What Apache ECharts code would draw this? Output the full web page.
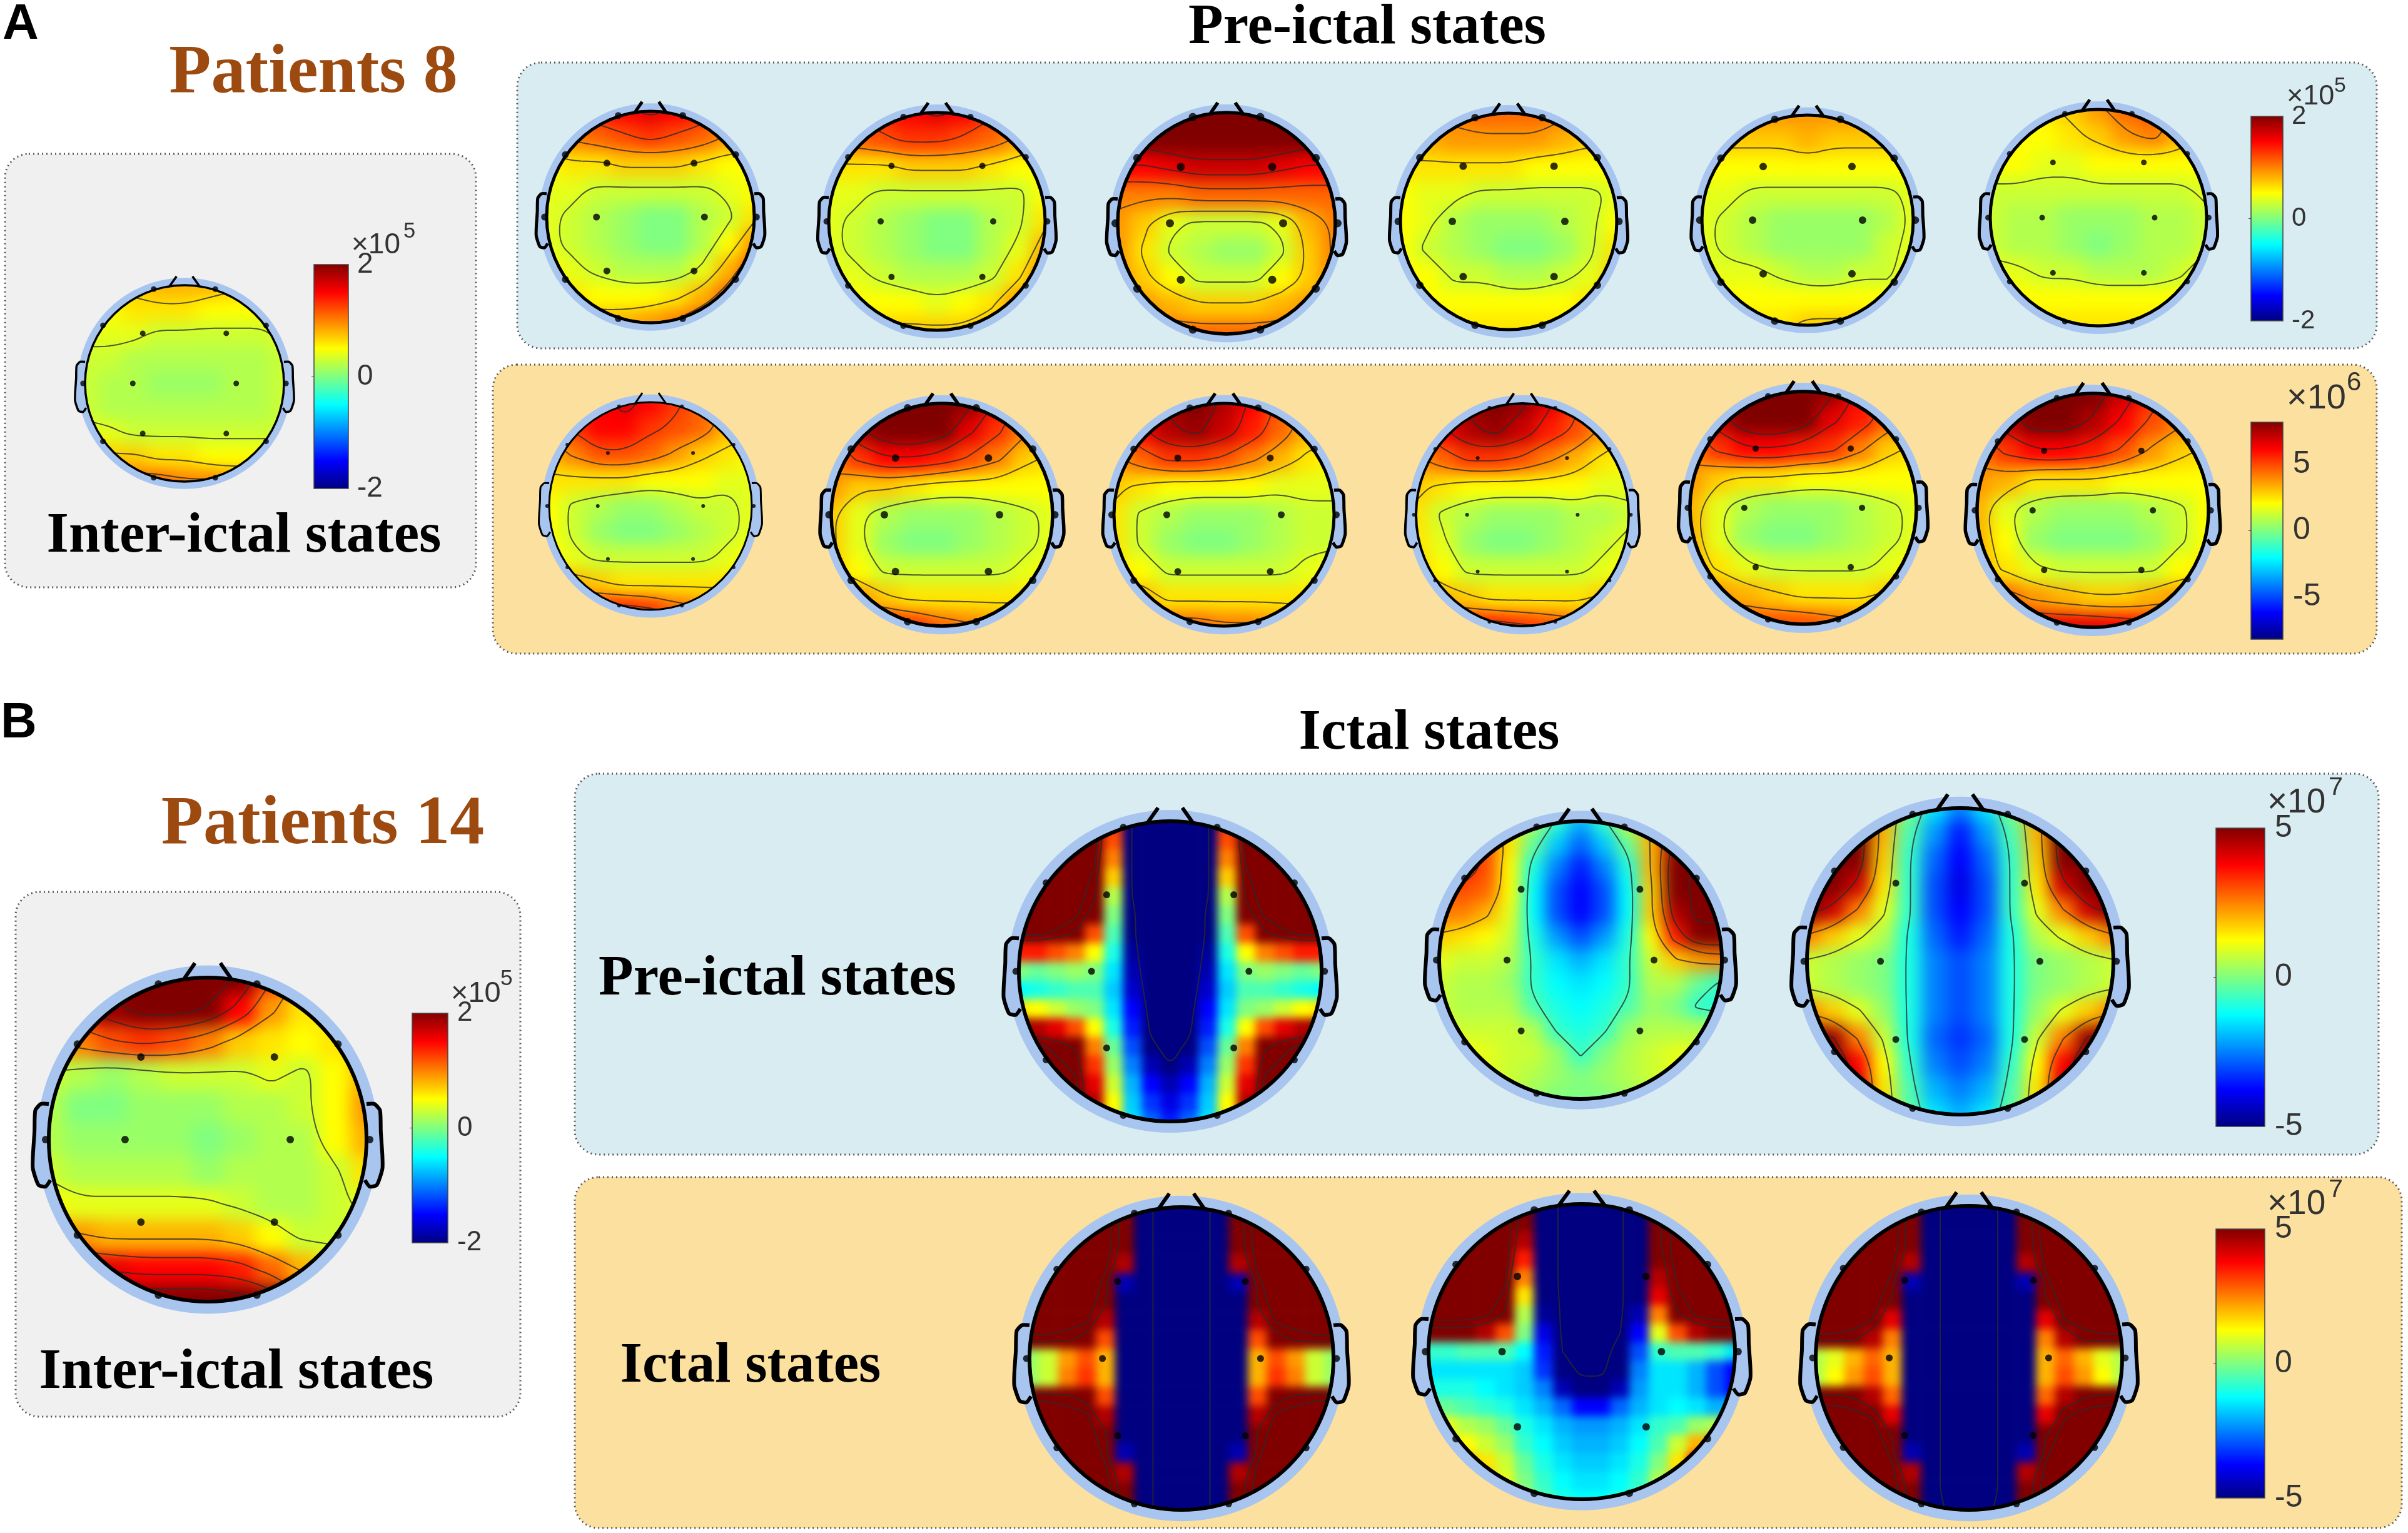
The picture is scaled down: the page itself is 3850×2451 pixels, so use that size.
<!DOCTYPE html>
<html><head><meta charset="utf-8"><title>EEG topographies</title>
<style>html,body{margin:0;padding:0;background:#fff;overflow:hidden}#c{width:3850px;height:2451px}</style>
<script src="https://cdn.jsdelivr.net/npm/echarts@6/dist/echarts.min.js"></script></head>
<body><div id="c"></div>
<script>
// Field values, in twentieths of each colour bar's half range (+-20 = bar ends).
// Rows run top to bottom of the head, columns left to right. Beyond +-20 the colour saturates.
const inter8=[
[7,7,7,8,8,8,7,6,6],[5,5,6,6,6,5,5,5,4],[4,4,4,3,3,3,3,3,4],[3,3,2,2,2,2,2,2,3],[3,2,2,1,1,1,2,2,3],[3,2,2,2,2,2,2,2,3],[4,4,3,3,3,3,3,3,3],[7,7,7,6,6,5,5,5,5],[11,11,11,11,10,10,9,9,9]];
const pre8a=[
[12,13,14,15,16,15,14,12,10],[9,10,11,12,13,12,11,9,8],[5,6,6,7,7,7,6,5,5],[4,4,3,3,3,3,3,4,5],[4,3,2,1,0,0,2,3,6],[4,3,2,1,0,0,2,5,9],[5,4,3,2,2,2,4,8,12],[6,6,5,5,5,6,8,11,14],[8,8,8,8,9,10,12,14,15]];
const pre8b=[
[12,13,14,15,16,15,13,11,9],[10,11,12,13,13,12,11,9,7],[6,6,6,7,7,7,6,5,5],[4,4,3,3,3,3,3,3,5],[4,3,2,1,0,0,2,3,6],[4,3,2,1,0,0,2,4,8],[4,4,3,2,2,2,3,6,10],[5,5,5,5,4,5,6,9,12],[7,7,7,7,7,7,8,11,13]];
const pre8c=[
[22,23,24,24,24,24,24,23,22],[19,20,21,22,22,22,21,20,19],[15,15,16,17,17,17,16,15,15],[10,10,10,11,11,11,11,11,11],[9,7,4,3,3,3,4,8,10],[9,6,3,2,1,1,3,7,10],[9,7,5,3,3,3,5,7,10],[10,9,8,7,7,7,8,9,10],[11,11,11,11,11,11,11,11,11]];
const pre8d=[
[10,10,10,11,11,11,10,9,9],[8,8,9,9,9,9,8,7,7],[6,6,6,6,6,5,5,5,5],[5,4,4,3,3,3,3,3,4],[5,4,2,1,1,1,2,3,5],[5,3,2,1,0,0,1,3,6],[5,5,3,3,2,2,3,4,7],[5,5,5,5,5,5,5,6,8],[6,6,6,6,6,6,6,6,8]];
const pre8e=[
[9,9,9,9,9,9,9,8,8],[7,7,7,7,8,7,7,7,7],[5,5,5,5,5,5,5,5,5],[4,4,3,3,3,3,3,3,4],[4,3,2,1,1,1,1,2,4],[4,3,2,1,1,1,1,3,4],[4,4,4,3,2,2,3,3,5],[5,5,5,5,5,5,5,5,5],[6,6,6,6,7,7,7,6,6]];
const pre8f=[
[5,5,6,7,9,11,12,9,7],[5,5,5,6,7,9,10,8,6],[5,5,4,4,5,5,5,5,5],[3,3,3,3,3,3,3,3,4],[3,2,2,1,1,1,2,2,3],[3,2,2,1,0,1,2,2,3],[4,4,3,3,2,2,2,3,5],[5,5,5,5,5,5,5,5,5],[6,6,6,6,6,6,6,6,6]];
const ict8a=[
[12,14,15,16,15,13,11,9,8],[10,13,15,15,13,12,11,8,7],[8,10,12,12,11,9,7,6,5],[6,6,6,6,5,5,5,4,4],[5,3,2,1,1,2,3,3,4],[5,3,1,0,0,1,2,3,4],[5,4,3,3,3,3,3,4,5],[8,8,7,6,6,6,6,6,6],[13,13,14,14,13,11,10,9,9]];
const ict8b=[
[16,19,22,23,22,19,15,11,9],[13,18,21,22,20,16,13,10,8],[10,13,15,15,14,12,10,7,6],[9,7,7,6,5,5,5,5,5],[7,4,2,1,1,1,2,3,4],[7,4,1,0,0,1,2,3,4],[7,5,3,3,3,3,3,4,5],[9,9,7,6,6,6,6,6,6],[14,14,14,13,11,10,9,9,9]];
const ict8c=[
[14,16,19,20,18,15,12,9,8],[12,15,18,19,17,14,11,8,7],[9,11,13,13,12,10,8,6,5],[7,6,5,5,5,5,4,4,4],[6,3,2,1,1,1,2,3,3],[6,3,1,0,0,1,2,3,3],[6,5,3,3,3,3,3,4,5],[8,8,6,6,6,6,6,6,6],[11,11,11,11,10,10,9,8,8]];
const ict8d=[
[14,16,19,21,19,16,13,10,8],[12,15,18,19,17,14,12,9,7],[9,11,13,13,12,10,8,6,5],[7,6,5,5,5,5,5,4,4],[6,3,2,1,1,1,2,2,3],[6,4,1,0,0,1,2,3,4],[7,5,3,3,3,3,3,4,5],[9,8,7,6,6,6,6,7,7],[14,14,14,14,13,12,11,10,10]];
const ict8e=[
[15,19,22,23,22,19,15,12,10],[13,17,21,22,20,16,14,11,9],[10,13,15,15,14,13,10,7,6],[9,7,6,6,5,5,5,5,5],[8,4,2,1,1,1,2,3,4],[8,4,1,0,0,1,2,3,4],[8,6,4,3,3,3,3,4,5],[10,9,8,7,6,6,6,7,8],[12,12,12,12,12,11,10,10,10]];
const ict8f=[
[15,18,20,21,20,17,14,11,9],[13,17,20,20,18,15,12,10,8],[10,13,15,15,14,12,9,7,6],[9,8,6,6,6,5,5,5,5],[8,4,2,1,1,1,2,3,5],[8,5,1,0,0,0,1,3,5],[8,6,4,3,3,3,3,5,6],[11,11,9,8,7,7,8,9,9],[17,17,16,16,16,15,14,14,14]];
const inter14=[
[16,20,23,24,24,23,20,13,7,6,6],[13,16,19,22,22,20,15,9,6,6,6],[8,10,12,13,12,10,7,6,5,6,7],[3,2,1,2,3,3,3,4,3,5,8],[2,0,0,1,1,1,2,2,3,5,9],[2,1,1,1,1,0,1,2,2,5,8],[3,2,2,2,2,1,2,2,2,3,6],[5,4,4,4,4,4,3,2,2,3,4],[10,9,8,8,8,8,7,5,3,3,3],[16,17,16,15,15,15,14,11,8,5,4],[21,23,24,24,24,24,23,20,14,8,6]];
const pre14a=[
[30,30,30,30,30,14,-22,-26,-26,-26,-22,14,30,30,30,30,30],
[30,30,30,30,30,12,-22,-26,-26,-26,-22,12,30,30,30,30,30],
[30,30,30,30,28,10,-22,-26,-26,-26,-22,10,28,30,30,30,30],
[30,30,30,30,26,7,-22,-26,-26,-26,-22,7,26,30,30,30,30],
[30,30,30,30,24,2,-21,-26,-26,-26,-21,2,24,30,30,30,30],
[30,30,30,28,20,0,-20,-26,-26,-26,-20,0,20,28,30,30,30],
[28,28,26,22,12,-2,-20,-26,-26,-26,-20,-2,12,22,26,28,28],
[14,14,12,10,5,-4,-19,-26,-26,-26,-19,-4,5,10,12,14,14],
[0,-1,0,1,0,-6,-18,-25,-26,-25,-18,-6,0,1,0,-1,0],
[-5,-4,-3,-2,-2,-7,-17,-24,-26,-24,-17,-7,-2,-2,-3,-4,-5],
[6,5,3,1,0,-6,-15,-23,-26,-23,-15,-6,0,1,3,5,6],
[20,18,16,12,5,-4,-14,-22,-25,-22,-14,-4,5,12,16,18,20],
[28,28,26,22,10,-1,-12,-20,-23,-20,-12,-1,10,22,26,28,28],
[30,28,28,26,13,1,-10,-18,-21,-18,-10,1,13,26,28,28,30],
[30,28,28,28,16,3,-8,-15,-18,-15,-8,3,16,28,28,28,30],
[30,28,28,28,18,5,-7,-13,-16,-13,-7,5,18,28,28,28,30],
[30,28,28,28,20,6,-6,-11,-14,-11,-6,6,20,28,28,28,30]];
const pre14b=[
[14,14,10,5,2,-3,-8,-3,3,8,14,16,16],[14,14,12,6,-1,-7,-11,-7,-1,8,18,22,22],[14,14,12,5,-4,-10,-14,-10,-4,8,20,24,24],[12,12,11,5,-5,-12,-15,-12,-5,7,20,24,24],[10,10,8,4,-5,-12,-15,-12,-5,7,18,24,24],[7,6,5,3,-4,-9,-12,-9,-4,5,14,20,20],[4,3,3,2,-3,-6,-8,-6,-3,3,7,9,10],[3,2,2,1,-3,-5,-6,-5,-3,2,2,-1,-3],[3,2,2,2,-2,-4,-5,-4,-2,1,0,-3,-4],[4,3,3,3,2,-3,-4,-3,1,2,2,2,2],[5,5,4,3,3,1,-3,0,2,3,4,4,4],[6,5,4,3,2,1,0,1,2,3,4,4,4],[6,5,4,3,1,0,0,0,1,2,4,4,4]];
const pre14c=[
[22,26,22,8,0,-6,-10,-6,0,8,22,26,22],[26,27,22,8,-2,-9,-14,-9,-2,8,22,27,26],[27,26,22,7,-3,-11,-15,-11,-3,7,22,26,27],[26,25,17,6,-3,-12,-16,-12,-3,6,17,25,26],[20,17,10,4,-3,-12,-15,-12,-3,4,10,17,20],[10,7,4,2,-4,-11,-14,-11,-4,2,4,7,10],[3,2,1,0,-4,-10,-12,-10,-4,0,1,2,3],[3,2,1,0,-4,-10,-12,-10,-4,0,1,2,3],[10,7,4,1,-4,-10,-12,-10,-4,1,4,7,10],[22,19,10,3,-4,-11,-13,-11,-4,3,10,19,22],[26,25,15,5,-3,-10,-12,-10,-3,5,15,25,26],[26,26,17,6,-2,-8,-10,-8,-2,6,17,26,26],[22,22,16,6,-1,-6,-8,-6,-1,6,16,22,22]];
const ict14a=[
[30,30,30,30,30,20,-24,-26,-26,-26,-24,20,30,30,30,30,30],
[30,30,30,30,30,20,-24,-26,-26,-26,-24,20,30,30,30,30,30],
[30,30,30,30,30,20,-24,-26,-26,-26,-24,20,30,30,30,30,30],
[30,30,30,30,28,18,-24,-26,-26,-26,-24,18,28,30,30,30,30],
[30,30,30,30,26,-18,-24,-26,-26,-26,-24,-18,26,30,30,30,30],
[30,30,30,30,24,-20,-24,-26,-26,-26,-24,-20,24,30,30,30,30],
[30,30,30,28,18,-20,-24,-26,-26,-26,-24,-20,18,28,30,30,30],
[26,26,24,20,12,-20,-24,-26,-26,-26,-24,-20,12,20,24,26,26],
[1,3,9,12,8,-20,-24,-26,-26,-26,-24,-20,8,12,9,3,1],
[1,3,10,13,8,-20,-24,-26,-26,-26,-24,-20,8,13,10,3,1],
[26,26,24,20,12,-20,-24,-26,-26,-26,-24,-20,12,20,24,26,26],
[30,30,30,28,18,-20,-24,-26,-26,-26,-24,-20,18,28,30,30,30],
[30,30,30,30,24,-20,-24,-26,-26,-26,-24,-20,24,30,30,30,30],
[30,30,30,30,26,-18,-24,-26,-26,-26,-24,-18,26,30,30,30,30],
[30,30,30,30,28,18,-24,-26,-26,-26,-24,18,28,30,30,30,30],
[30,30,30,30,30,20,-24,-26,-26,-26,-24,20,30,30,30,30,30],
[30,30,30,30,30,20,-24,-26,-26,-26,-24,20,30,30,30,30,30]];
const ict14b=[
[30,30,30,30,30,20,-22,-26,-26,-26,-26,-20,22,30,30,30,30],
[30,30,30,30,30,20,-22,-26,-26,-26,-26,-20,22,30,30,30,30],
[30,30,30,30,30,18,-22,-26,-26,-26,-26,-20,22,30,30,30,30],
[30,30,30,30,30,14,-22,-26,-26,-26,-26,-20,20,30,30,30,30],
[30,30,30,30,28,10,-22,-26,-26,-26,-26,-20,18,28,30,30,30],
[30,30,30,30,26,6,-21,-26,-26,-26,-26,-20,16,26,30,30,30],
[30,30,30,28,22,2,-19,-26,-26,-26,-26,-18,10,22,28,30,30],
[20,20,20,18,12,0,-16,-26,-26,-26,-25,-15,4,12,18,20,20],
[-3,-3,-2,-2,-2,-5,-14,-25,-26,-26,-24,-12,-3,-2,-2,-3,-6],
[-6,-6,-6,-6,-6,-7,-13,-23,-26,-26,-22,-10,-6,-6,-8,-12,-15],
[-4,-4,-4,-5,-6,-7,-10,-18,-23,-23,-18,-9,-6,-6,-8,-12,-15],
[0,-1,-2,-3,-4,-6,-8,-11,-15,-15,-11,-8,-6,-5,-6,-8,-8],
[5,4,2,1,-1,-4,-6,-8,-9,-9,-8,-6,-3,-2,1,2,2],
[7,6,5,3,1,-3,-5,-7,-8,-8,-7,-5,-2,3,8,10,10],
[10,9,8,6,3,-1,-4,-6,-7,-7,-6,-4,0,6,14,18,18],
[12,12,10,8,4,0,-3,-5,-6,-6,-5,-3,2,8,16,22,22],
[12,12,10,8,4,1,-2,-4,-5,-5,-4,-2,2,8,16,22,22]];
const ict14c=[
[30,30,30,30,30,20,-24,-26,-26,-26,-24,20,30,30,30,30,30],
[30,30,30,30,30,20,-24,-26,-26,-26,-24,20,30,30,30,30,30],
[30,30,30,30,30,20,-24,-26,-26,-26,-24,20,30,30,30,30,30],
[30,30,30,30,28,18,-24,-26,-26,-26,-24,18,28,30,30,30,30],
[30,30,30,30,26,-18,-24,-26,-26,-26,-24,-18,26,30,30,30,30],
[30,30,30,30,22,-20,-24,-26,-26,-26,-24,-20,22,30,30,30,30],
[30,30,30,27,16,-20,-24,-26,-26,-26,-24,-20,16,27,30,30,30],
[26,26,24,18,10,-20,-24,-26,-26,-26,-24,-20,10,18,24,26,26],
[2,4,8,11,8,-20,-24,-26,-26,-26,-24,-20,8,11,8,4,2],
[2,5,9,12,8,-20,-24,-26,-26,-26,-24,-20,8,12,9,5,2],
[24,24,22,18,11,-20,-24,-26,-26,-26,-24,-20,11,18,22,24,24],
[30,30,29,26,16,-20,-24,-26,-26,-26,-24,-20,16,26,29,30,30],
[30,30,30,30,22,-20,-24,-26,-26,-26,-24,-20,22,30,30,30,30],
[30,30,30,30,26,-18,-24,-26,-26,-26,-24,-18,26,30,30,30,30],
[30,30,30,30,28,18,-24,-26,-26,-26,-24,18,28,30,30,30,30],
[30,30,30,30,30,20,-24,-26,-26,-26,-24,20,30,30,30,30,30],
[30,30,30,30,30,20,-22,-26,-26,-26,-22,20,30,30,30,30,30]];

const barTicksLow=[-2,0,2], barTicksMid=[-5,0,5], barLimitMid=8.2, barLimitHigh=5, barLimitLow=2;
const electrodes=[[-.31,-.96],[.31,-.96],[-.82,-.59],[.82,-.59],[-.42,-.51],[.42,-.51],[-.52,0],[.52,0],[-1.02,0],[1.02,0],[-.42,.51],[.42,.51],[-.82,.59],[.82,.59],[-.31,.96],[.31,.96]];
const earRight=[[1,-.22],[1.05,-.22],[1.085,-.18],[1.09,-.05],[1.1,.1],[1.1,.18],[1.065,.28],[1.02,.29],[.99,.25]];
const noseRight=[[.15,-.99],[.08,-1.09]];
const earLeft=earRight.map(p=>[-p[0],p[1]]), noseLeft=noseRight.map(p=>[-p[0],p[1]]);

const A=[3.5,6.5,9.5,12.5,15.5,18.5], SAT=[-25,23,27];
const heads=[
 {d:inter8,c:[295,613],r:[159,157],w:3.5,s:9,l:A},
 {d:pre8a,c:[1040,347],r:[166,169],w:5,s:11,l:A},
 {d:pre8b,c:[1498,354],r:[173,174],w:5,s:10,l:A},
 {d:pre8c,c:[1961,357],r:[174,177],w:5.5,s:13,l:A},
 {d:pre8d,c:[2412,354],r:[173,173],w:5,s:12,l:A},
 {d:pre8e,c:[2890,352],r:[169,168],w:5,s:12,l:A},
 {d:pre8f,c:[3355,348],r:[173,173],w:5,s:9,l:A},
 {d:ict8a,c:[1040,809],r:[162,166],w:3,s:6,l:A},
 {d:ict8b,c:[1506,823],r:[177,178],w:5.5,s:12,l:A},
 {d:ict8c,c:[1957,823],r:[176,178],w:5,s:11,l:A},
 {d:ict8d,c:[2434,823],r:[170,178],w:4,s:6,l:A},
 {d:ict8e,c:[2883,812],r:[181,186],w:5.5,s:10,l:A},
 {d:ict8f,c:[3346,816],r:[185,187],w:5.5,s:10,l:A},
 {d:inter14,c:[332,1822],r:[254,259],w:6,s:12,l:[3.5,8.5,12.5,16.5,20.5]},
 {d:pre14a,c:[1871,1553],r:[242,240],w:6,s:11,l:[-21,23,27],sharp:1},
 {d:pre14b,c:[2527,1535],r:[226,222],w:6,s:11,l:[-2.5,7.5,12.5,16.5,22.5]},
 {d:pre14c,c:[3134,1537],r:[245,245],w:6,s:11,l:[-3.5,3.5,10.5,18.5]},
 {d:ict14a,c:[1889,2172],r:[243,242],w:6,s:11,l:SAT,sharp:1},
 {d:ict14b,c:[2529,2161],r:[245,236],w:6,s:12,l:SAT,sharp:1},
 {d:ict14c,c:[3148,2171],r:[245,243],w:6,s:11,l:SAT,sharp:1}
];
const bars=[
 {box:[502,423,55,358],lim:barLimitLow,ticks:barTicksLow,fs:46,m:14,exp:['×10','5',562,392,46,645,370]},
 {box:[3599,186,51,327],lim:barLimitLow,ticks:barTicksLow,fs:42,m:14,exp:['×10','5',3656,155,45,3732,138]},
 {box:[3599,675,51,347],lim:barLimitMid,ticks:barTicksMid,fs:50,m:16,exp:['×10','6',3656,638,56,3752,612]},
 {box:[659,1620,57,367],lim:barLimitLow,ticks:barTicksLow,fs:44,m:15,exp:['×10','5',721,1589,47,800,1565]},
 {box:[3543,1324,78,477],lim:barLimitHigh,ticks:[-5,0,5],fs:50,m:16,exp:['×10','7',3625,1284,55,3723,1260]},
 {box:[3543,1965,78,430],lim:barLimitHigh,ticks:[-5,0,5],fs:50,m:16,exp:['×10','7',3625,1926,55,3723,1903]}
];
const jet=['#000080','#0000ff','#0080ff','#00ffff','#80ff80','#ffff00','#ff8000','#ff0000','#800000'];
const RING='#a8c5f0';

function contours(g,level){
  const N=g.length,segs=[];
  const px=(i,j)=>[-1+2*i/(N-1),-1+2*j/(N-1)];
  for(let j=0;j<N-1;j++)for(let i=0;i<N-1;i++){
    const a=g[j][i],b=g[j][i+1],c=g[j+1][i+1],d=g[j+1][i],pts=[];
    const t=(u,v)=>(level-u)/(v-u);
    if((a<level)!==(b<level))pts.push(px(i+t(a,b),j));
    if((b<level)!==(c<level))pts.push(px(i+1,j+t(b,c)));
    if((d<level)!==(c<level))pts.push(px(i+t(d,c),j+1));
    if((a<level)!==(d<level))pts.push(px(i,j+t(a,d)));
    if(pts.length>=2)segs.push([pts[0],pts[1]]);
    if(pts.length===4)segs.push([pts[2],pts[3]]);
  }
  const key=p=>p[0].toFixed(5)+','+p[1].toFixed(5),used=new Set(),lines=[];
  for(let s=0;s<segs.length;s++){
    if(used.has(s))continue;used.add(s);
    let ch=[segs[s][0],segs[s][1]],grew=true;
    while(grew){grew=false;
      for(let q=0;q<segs.length;q++){if(used.has(q))continue;
        const A=key(segs[q][0]),B=key(segs[q][1]),E=key(ch[ch.length-1]),F=key(ch[0]);
        if(A===E){ch.push(segs[q][1]);}else if(B===E){ch.push(segs[q][0]);}
        else if(A===F){ch.unshift(segs[q][1]);}else if(B===F){ch.unshift(segs[q][0]);}else continue;
        used.add(q);grew=true;}
    }
    for(let k=0;k<3&&ch.length>2;k++){const o=[ch[0]];
      for(let m=0;m<ch.length-1;m++){const p=ch[m],q=ch[m+1];
        o.push([.75*p[0]+.25*q[0],.75*p[1]+.25*q[1]],[.25*p[0]+.75*q[0],.25*p[1]+.75*q[1]]);}
      o.push(ch[ch.length-1]);ch=o;}
    lines.push(ch);
  }
  return lines;
}

const grid=[],xAxis=[],yAxis=[],series=[],heatIdx=[];
heads.forEach((h,n)=>{
  const N=h.d.length,cw=2*h.r[0]/(N-1),ch=2*h.r[1]/(N-1),ext=1+1/(N-1);
  grid.push({left:h.c[0]-h.r[0]-cw/2,top:h.c[1]-h.r[1]-ch/2,width:N*cw,height:N*ch});
  const cats=h.d.map((_,i)=>i),g=grid.length-1,ci=xAxis.length,vi=ci+1;
  xAxis.push({type:'category',gridIndex:g,data:cats,show:false},{type:'value',gridIndex:g,min:-ext,max:ext,show:false});
  yAxis.push({type:'category',gridIndex:g,data:cats,inverse:true,show:false},{type:'value',gridIndex:g,min:-ext,max:ext,inverse:true,show:false});
  const ax={xAxisIndex:vi,yAxisIndex:vi,coordinateSystem:'cartesian2d',silent:true};
  const ell=(api,k,style)=>{const c=api.coord([0,0]),e=api.coord([k,k]);
    return {type:'ellipse',shape:{cx:c[0],cy:c[1],rx:e[0]-c[0],ry:e[1]-c[1]},style};};
  const poly=(api,pts,style,smooth)=>({type:'polyline',shape:{points:pts.map(p=>api.coord(p)),smooth:smooth||0},style});
  series.push({type:'custom',...ax,zlevel:0,data:[[0,0]],renderItem:(p,api)=>({type:'group',children:[
    ell(api,1.075,{fill:RING}),
    {type:'polygon',shape:{points:earRight.map(q=>api.coord(q)),smooth:.2},style:{fill:RING}},
    {type:'polygon',shape:{points:earLeft.map(q=>api.coord(q)),smooth:.2},style:{fill:RING}}]})});
  heatIdx.push(series.length);
  const cells=[];h.d.forEach((row,j)=>row.forEach((v,i)=>cells.push([i,j,Math.max(-20,Math.min(20,v))])));
  series.push({type:'heatmap',xAxisIndex:ci,yAxisIndex:ci,zlevel:h.sharp?2:1,data:cells,silent:true,progressive:0,emphasis:{disabled:true},itemStyle:{borderWidth:0}});
  series.push({type:'custom',...ax,zlevel:3,data:[[0,0]],renderItem:(p,api)=>{
    const kids=[];h.l.forEach(lv=>contours(h.d,lv).forEach(c=>kids.push(poly(api,c,{fill:null,stroke:'#2a2a2a',lineWidth:2,opacity:.8}))));
    return {type:'group',children:kids};}});
  series.push({type:'custom',...ax,zlevel:4,data:[[0,0]],renderItem:(p,api)=>{
    const st={fill:null,stroke:'#000',lineWidth:h.w};
    return {type:'group',children:[ell(api,1,st),poly(api,earRight,st,.2),poly(api,earLeft,st,.2),poly(api,noseRight,st),poly(api,noseLeft,st)]};}});
  series.push({type:'scatter',xAxisIndex:vi,yAxisIndex:vi,zlevel:4,z:5,silent:true,data:electrodes,symbolSize:h.s,itemStyle:{color:'#000'}});
});
const stops=jet.map((c,i)=>({offset:i/(jet.length-1),color:c}));
bars.forEach(b=>{
  grid.push({left:b.box[0],top:b.box[1],width:b.box[2],height:b.box[3]});
  const g=grid.length-1,i=xAxis.length;
  xAxis.push({type:'value',gridIndex:g,min:0,max:1,show:false});
  yAxis.push({type:'value',gridIndex:g,position:'right',min:-b.lim,max:b.lim,splitLine:{show:false},axisLine:{show:false},
    axisTick:{show:true,inside:true,length:4,customValues:[0],lineStyle:{color:'#444'}},
    axisLabel:{show:true,customValues:b.ticks,margin:b.m,padding:[9,0,0,0],fontFamily:'Liberation Sans',fontSize:b.fs,color:'#333',hideOverlap:false,showMinLabel:true,showMaxLabel:true,formatter:v=>String(v)}});
  series.push({type:'custom',coordinateSystem:'cartesian2d',xAxisIndex:i,yAxisIndex:i,zlevel:4,silent:true,data:[[0,-b.lim,1,b.lim]],
    renderItem:(p,api)=>{const a=api.coord([api.value(0),api.value(1)]),e=api.coord([api.value(2),api.value(3)]);
      return {type:'rect',shape:{x:a[0],y:e[1],width:e[0]-a[0],height:a[1]-e[1]},
        style:{fill:new echarts.graphic.LinearGradient(0,1,0,0,stops),stroke:'#444',lineWidth:1.5}};}});
});

const panel=(x,y,w,h,fill)=>({type:'rect',zlevel:0,z:-10,shape:{x,y,width:w,height:h,r:38},style:{fill,stroke:'#555',lineWidth:3,lineDash:[2,5]}});
const text=(t,x,y,size,opt)=>({type:'text',zlevel:4,x,y,style:Object.assign({text:t,fontFamily:'Liberation Serif',fontWeight:'bold',fontSize:size,fill:'#000',textAlign:'center',textVerticalAlign:'middle',verticalAlign:'middle'},opt||{})});
const sans={fontFamily:'Liberation Sans'},BR='#9c4a10';
const graphics=[
 panel(8,246,753,693,'#f0f0f0'),panel(827,100,2973,457,'#d9ecf2'),panel(788,583,3012,462,'#fce0a0'),
 panel(25,1426,807,839,'#f0f0f0'),panel(919,1237,2884,609,'#d9ecf2'),panel(919,1882,2921,561,'#fce0a0'),
 text('A',33,40,80,{...sans}),text('B',30,1157,80,{...sans}),
 text('Patients 8',501,119,110,{fill:BR}),text('Patients 14',516,1320,110,{fill:BR}),
 text('Pre-ictal states',2186,45,91),text('Ictal states',2285,1173,91),
 text('Inter-ictal states',390,858,91),text('Inter-ictal states',378,2195,91),
 text('Pre-ictal states',1243,1566,91),text('Ictal states',1200,2185,91)
];
bars.forEach(b=>{const e=b.exp;
  graphics.push(text(e[0],e[2],e[3],e[4],{...sans,fontWeight:'normal',fill:'#333',textAlign:'left'}));
  graphics.push(text(e[1],e[5],e[6],e[4]*.75,{...sans,fontWeight:'normal',fill:'#333',textAlign:'left'}));
});

const chart=echarts.init(document.getElementById('c'),null,{renderer:'canvas',width:3850,height:2451});
chart.setOption({backgroundColor:'#fff',animation:false,grid,xAxis,yAxis,series,graphic:{elements:graphics},
  visualMap:{show:false,type:'continuous',seriesIndex:heatIdx,min:-20,max:20,dimension:2,inRange:{color:jet}}});
function layers(){
  const path=list=>"path('"+list.map(h=>{const rx=h.r[0],ry=h.r[1];
    return `M${h.c[0]-rx} ${h.c[1]}a${rx} ${ry} 0 1 0 ${2*rx} 0a${rx} ${ry} 0 1 0 ${-2*rx} 0Z`;}).join('')+"')";
  const get=z=>document.querySelector('canvas[data-zr-dom-id="zr_'+z+'"]');
  const soft=get(1),hard=get(2),lines=get(3);
  if(soft){soft.style.filter='blur(13px)';soft.style.clipPath=path(heads.filter(h=>!h.sharp));}
  if(hard){hard.style.filter='blur(7px)';hard.style.clipPath=path(heads.filter(h=>h.sharp));}
  if(lines){lines.style.clipPath=path(heads);}
}
chart.getZr().flush();layers();chart.on('finished',layers);setTimeout(layers,200);
</script></body></html>
